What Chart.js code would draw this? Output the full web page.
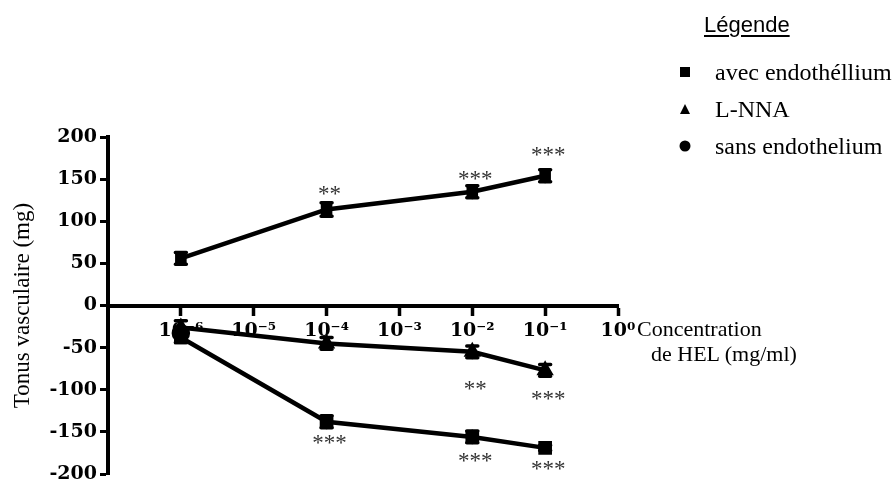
<!DOCTYPE html>
<html>
<head>
<meta charset="utf-8">
<script src="https://cdn.jsdelivr.net/npm/chart.js@4/dist/chart.umd.min.js"></script>
<style>
html,body{margin:0;padding:0;background:#fff;overflow:hidden;}
#wrap{position:relative;width:895px;height:482px;overflow:hidden;background:#fff;}
#c{position:absolute;left:0;top:0;}
#xtitle{position:absolute;left:637px;top:316px;font-family:"Liberation Serif",serif;font-size:22px;line-height:25px;color:#000;white-space:nowrap;}
#xtitle div+div{padding-left:14px;}
#legTitle{position:absolute;left:704px;top:13px;font-family:"Liberation Sans",Arial,sans-serif;font-size:22px;line-height:24px;text-decoration:underline;text-underline-offset:3px;color:#000;}
.row{position:absolute;left:672px;height:26px;display:flex;align-items:center;font-family:"Liberation Serif",serif;font-size:24px;white-space:nowrap;color:#000;}
.mk{width:26px;height:26px;position:relative;margin-right:17px;}
.mk span{position:absolute;left:50%;top:50%;transform:translate(-50%,-50%);}
.sq{width:10px;height:10px;background:#000;}
.tri{width:0;height:0;border-left:5.5px solid transparent;border-right:5.5px solid transparent;border-bottom:10px solid #000;}
.ci{width:11px;height:11px;border-radius:50%;background:#000;}
</style>
</head>
<body>
<div id="wrap">
  <canvas id="c" width="895" height="500"></canvas>
  <div id="xtitle"></div>
  <div id="legTitle"></div>
  <div id="legend"></div>
</div>
<script>
// ---- data ----
const concentrations = [1e-6, 1e-4, 1e-2, 1e-1];
const xTickValues = [1e-6, 1e-5, 1e-4, 1e-3, 1e-2, 1e-1, 1e0];
const xTickLabels = ['10\u207B\u2076', '10\u207B\u2075', '10\u207B\u2074', '10\u207B\u00B3', '10\u207B\u00B2', '10\u207B\u00B9', '10\u2070'];
const seriesNames = ['avec endothéllium', 'L-NNA', 'sans endothelium'];
const legendTitle = 'Légende';
const yTitle = 'Tonus vasculaire (mg)';
const xTitleLines = ['Concentration', 'de HEL (mg/ml)'];

const contractionValues = [56, 114, 135, 154];
const contractionErrors = [7, 8, 7, 7];
const contractionStars = ['', '**', '***', '***'];
const contractionStarLevels = [null, 136, 154, 182];

const avecValues = [-38, -138, -156, -169];
const avecErrors = [6, 7, 7, 3];
const avecStars = ['', '***', '***', '***'];
const avecStarLevels = [null, -160, -181, -191];

const lnnaValues = [-26, -45, -55, -77];
const lnnaErrors = [8, 7, 7, 7];
const lnnaStars = ['', '', '**', '***'];
const lnnaStarLevels = [null, null, -95, -107];

const sansConcentrations = [1e-6];
const sansValues = [-33];
const sansErrors = [0];

function pts(xs, ys) { return xs.map((x, i) => ({x: x, y: ys[i]})); }

// ---- plugins ----
const errorBars = {
  id: 'errorBars',
  afterDatasetsDraw(chart) {
    const ctx = chart.ctx, xs = chart.scales.x, ys = chart.scales.y;
    ctx.save();
    ctx.strokeStyle = '#000';
    ctx.lineCap = 'round';
    chart.data.datasets.forEach(ds => {
      if (!ds.errors) return;
      ds.data.forEach((p, i) => {
        const e = ds.errors[i];
        if (!e) return;
        const x = xs.getPixelForValue(p.x);
        const yT = ys.getPixelForValue(p.y + e);
        const yB = ys.getPixelForValue(p.y - e);
        ctx.lineWidth = 3;
        ctx.beginPath(); ctx.moveTo(x, yT); ctx.lineTo(x, yB); ctx.stroke();
        ctx.lineWidth = 3.5;
        ctx.beginPath();
        ctx.moveTo(x - 5.5, yT); ctx.lineTo(x + 5.5, yT);
        ctx.moveTo(x - 5.5, yB); ctx.lineTo(x + 5.5, yB);
        ctx.stroke();
      });
    });
    ctx.restore();
  }
};

const starMarks = {
  id: 'starMarks',
  afterDatasetsDraw(chart) {
    const ctx = chart.ctx, xs = chart.scales.x, ys = chart.scales.y;
    ctx.save();
    ctx.fillStyle = '#333';
    ctx.font = '23px "Liberation Serif"';
    ctx.textAlign = 'center';
    ctx.textBaseline = 'middle';
    chart.data.datasets.forEach(ds => {
      if (!ds.stars) return;
      ds.data.forEach((p, i) => {
        const s = ds.stars[i];
        if (!s) return;
        const x = xs.getPixelForValue(p.x) + 3;
        const y = ys.getPixelForValue(ds.starLevels[i]) + 4;
        ctx.fillText(s, x, y);
      });
    });
    ctx.restore();
  }
};

const common = {
  borderColor: '#000', backgroundColor: '#000', pointBackgroundColor: '#000',
  pointBorderColor: '#000', borderWidth: 4.5, tension: 0, showLine: true
};

const chart = new Chart(document.getElementById('c'), {
  type: 'scatter',
  data: {
    datasets: [
      Object.assign({}, common, {
        label: seriesNames[2], data: pts(sansConcentrations, sansValues), errors: sansErrors,
        pointStyle: 'circle', pointRadius: 7, showLine: false
      }),
      Object.assign({}, common, {
        label: seriesNames[0], data: pts(concentrations, avecValues), errors: avecErrors,
        stars: avecStars, starLevels: avecStarLevels, pointStyle: 'rect', pointRadius: 6.5
      }),
      Object.assign({}, common, {
        label: seriesNames[1], data: pts(concentrations, lnnaValues), errors: lnnaErrors,
        stars: lnnaStars, starLevels: lnnaStarLevels, pointStyle: 'triangle', pointRadius: 5.5
      }),
      Object.assign({}, common, {
        label: '', data: pts(concentrations, contractionValues), errors: contractionErrors,
        stars: contractionStars, starLevels: contractionStarLevels, pointStyle: 'rect', pointRadius: 5
      })
    ]
  },
  options: {
    responsive: false,
    devicePixelRatio: 1,
    animation: false,
    layout: { padding: { top: 137, right: 277, bottom: 26, left: 0 } },
    plugins: { legend: { display: false }, tooltip: { enabled: false } },
    scales: {
      x: {
        type: 'logarithmic',
        position: { y: 0 },
        min: 1e-7, max: 1,
        afterBuildTicks: (s) => { s.ticks = xTickValues.map(v => ({ value: v })); },
        grid: { drawOnChartArea: false, drawTicks: true, tickLength: 8, tickWidth: 3.5, tickColor: '#000' },
        border: { display: true, color: '#000', width: 4 },
        ticks: {
          autoSkip: false, maxRotation: 0, minRotation: 0, padding: 6, color: '#000',
          font: { family: 'DejaVu Serif', size: 19, weight: 'bold' },
          callback: (v, i) => xTickLabels[i]
        }
      },
      y: {
        type: 'linear',
        position: 'left',
        min: -200, max: 200,
        afterFit: (s) => { s.width = 108; },
        grid: { drawOnChartArea: false, drawTicks: true, tickLength: 8, tickWidth: 3, tickColor: '#000' },
        border: { display: true, color: '#000', width: 4 },
        ticks: {
          stepSize: 50, padding: 3, color: '#000',
          font: { family: 'DejaVu Serif', size: 19, weight: 'bold' }
        },
        title: {
          display: true, text: yTitle, color: '#000',
          font: { family: 'Liberation Serif', size: 23 },
          padding: { top: 9, bottom: 0 }
        }
      }
    }
  },
  plugins: [errorBars, starMarks]
});

// ---- HTML texts (legend and x title) ----
document.getElementById('xtitle').innerHTML = xTitleLines.map(t => '<div>' + t + '</div>').join('');
document.getElementById('legTitle').textContent = legendTitle;
const markerCls = ['sq', 'tri', 'ci'];
const leg = document.getElementById('legend');
seriesNames.forEach((n, i) => {
  const r = document.createElement('div');
  r.className = 'row';
  r.style.top = (59 + i * 37) + 'px';
  r.innerHTML = '<div class="mk"><span class="' + markerCls[i] + '"></span></div><span>' + n + '</span>';
  leg.appendChild(r);
});
</script>
</body>
</html>
